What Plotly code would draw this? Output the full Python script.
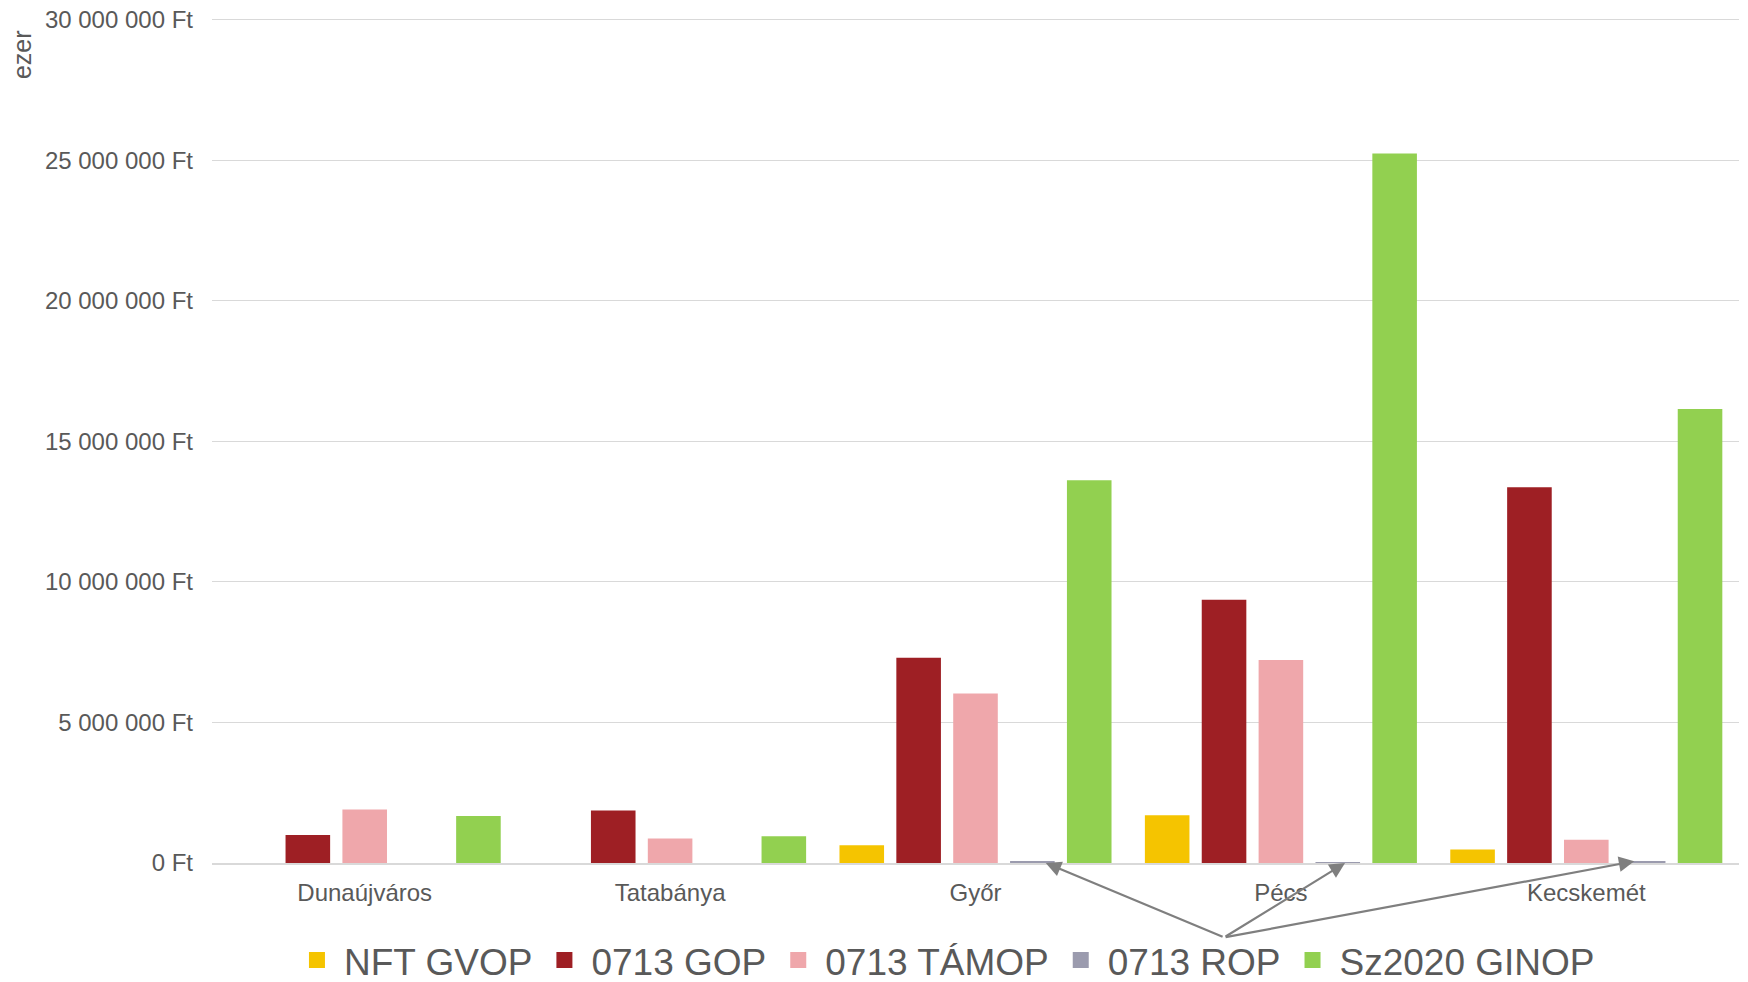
import plotly.graph_objects as go

cities = ["Dunaújváros", "Tatabánya", "Győr", "Pécs", "Kecskemét"]

nft_gvop = [0, 0, 630000, 1700000, 480000]
gop_0713 = [1000000, 1870000, 7300000, 9370000, 13370000]
tamop_0713 = [1900000, 870000, 6030000, 7220000, 830000]
rop_0713 = [0, 0, 40000, 20000, 60000]
ginop_sz2020 = [1670000, 950000, 13620000, 25240000, 16150000]

series_names = ["NFT GVOP", "0713 GOP", "0713 TÁMOP", "0713 ROP", "Sz2020 GINOP"]
series_colors = ["#F5C400", "#9E1F24", "#EFA7AB", "#9B9BAE", "#92D050"]

tick_vals = [0, 5000000, 10000000, 15000000, 20000000, 25000000, 30000000]
tick_text = ["0 Ft", "5 000 000 Ft", "10 000 000 Ft", "15 000 000 Ft",
             "20 000 000 Ft", "25 000 000 Ft", "30 000 000 Ft"]

# arrows from the note point to the tiny ROP bars
arrow_tips = [(2.23, 0), (3.21, 0), (4.157, 60000)]
arrow_tail = (2.814, -2650000)

font_color = "#595959"
font_family = "Liberation Sans, Arial, sans-serif"

fig = go.Figure()
for name, vals, col in zip(series_names,
                           [nft_gvop, gop_0713, tamop_0713, rop_0713, ginop_sz2020],
                           series_colors):
    fig.add_trace(go.Bar(name=name, x=cities, y=vals, marker_color=col,
                         marker_line_width=0, showlegend=False))
    # legend-only entry with a bigger square swatch
    fig.add_trace(go.Scatter(name=name, x=[None], y=[None], mode="markers",
                             marker=dict(symbol="square", size=16, color=col),
                             showlegend=True, hoverinfo="skip"))

for tx, ty in arrow_tips:
    fig.add_annotation(x=tx, y=ty, xref="x", yref="y",
                       ax=arrow_tail[0], ay=arrow_tail[1], axref="x", ayref="y",
                       text="", showarrow=True, arrowhead=2, arrowsize=1.4,
                       arrowwidth=2.2, arrowcolor="#7F7F7F")

fig.add_annotation(text="ezer", xref="paper", yref="paper", x=-0.1244, y=0.955,
                   xanchor="center", yanchor="middle",
                   textangle=-90, showarrow=False,
                   font=dict(size=25, color=font_color, family=font_family))

# page body has an 8px margin, so the figure is sized to fit the window
fig.update_layout(
    width=1740, height=974,
    margin=dict(l=204, r=9, t=9, b=119),
    barmode="group", bargap=0.069, bargroupgap=0.216,
    plot_bgcolor="white", paper_bgcolor="white",
    font=dict(family=font_family, color=font_color, size=24),
    showlegend=True,
    legend=dict(orientation="h", x=0.48, xanchor="center",
                yref="container", y=0.022, yanchor="middle",
                font=dict(size=37, color=font_color), itemwidth=44),
    xaxis=dict(showgrid=False, showline=True, linecolor="#D9D9D9", linewidth=1.5,
               ticks="", ticklabelstandoff=7, tickfont=dict(size=24),
               automargin=False),
    yaxis=dict(range=[0, 30100000], tickvals=tick_vals, ticktext=tick_text,
               gridcolor="#D9D9D9", gridwidth=1.3, zeroline=False,
               ticklabelstandoff=18, tickfont=dict(size=24), automargin=False,
               ticklabeloverflow="allow"),
)

fig.write_html("out.html")
